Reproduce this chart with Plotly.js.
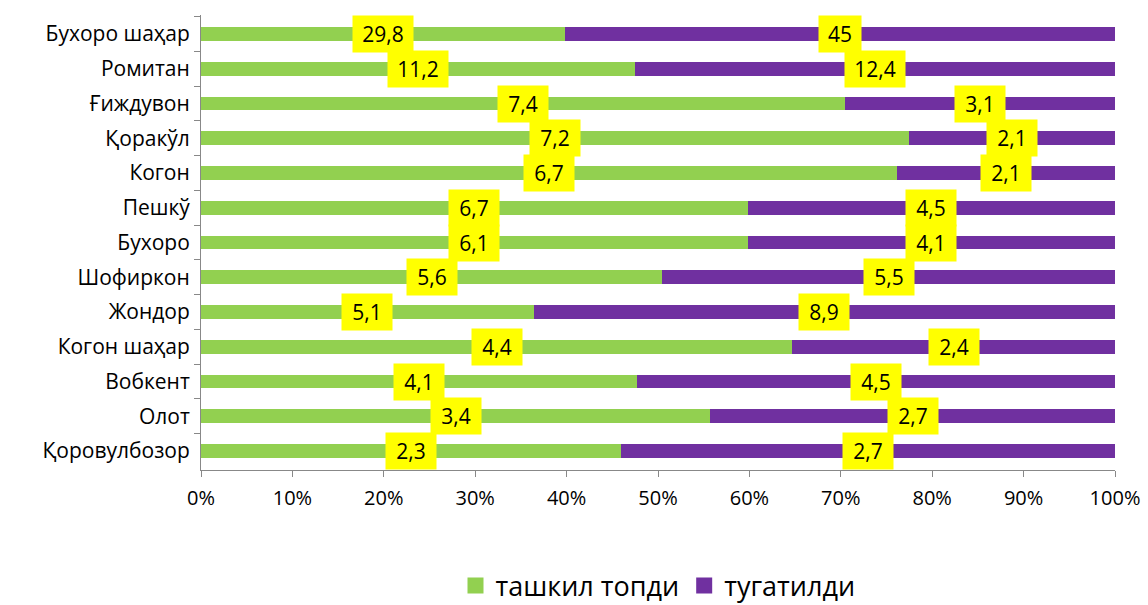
<!DOCTYPE html>
<html>
<head>
<meta charset="utf-8">
<script src="https://cdn.plot.ly/plotly-3.0.1.min.js"></script>
<style>
  body { margin: 0; background: #fff; }
  #plotArea { width: 1148px; height: 605px; }
</style>
</head>
<body>
<div id="plotArea"></div>
<script>
var districts = ['Бухоро шаҳар', 'Ромитан', 'Ғиждувон', 'Қоракўл', 'Когон', 'Пешкў', 'Бухоро',
                 'Шофиркон', 'Жондор', 'Когон шаҳар', 'Вобкент', 'Олот', 'Қоровулбозор'];
var foundedVals = [29.8, 11.2, 7.4, 7.2, 6.7, 6.7, 6.1, 5.6, 5.1, 4.4, 4.1, 3.4, 2.3];
var closedVals = [45, 12.4, 3.1, 2.1, 2.1, 4.5, 4.1, 5.5, 8.9, 2.4, 4.5, 2.7, 2.7];
var seriesNames = ['ташкил топди', 'тугатилди'];

var green = '#92D050';
var purple = '#7030A0';

var trace1 = {
  y: districts, x: foundedVals, name: seriesNames[0],
  type: 'bar', orientation: 'h', showlegend: false,
  marker: {color: green}, hoverinfo: 'x+y'
};
var trace2 = {
  y: districts, x: closedVals, name: seriesNames[1],
  type: 'bar', orientation: 'h', showlegend: false,
  marker: {color: purple}, hoverinfo: 'x+y'
};

// legend-only entries with bigger square markers
var leg1 = {
  x: [null], y: [null], type: 'scatter', mode: 'markers', name: seriesNames[0],
  marker: {symbol: 'square', size: 20, color: green}, hoverinfo: 'skip'
};
var leg2 = {
  x: [null], y: [null], type: 'scatter', mode: 'markers', name: seriesNames[1],
  marker: {symbol: 'square', size: 20, color: purple}, hoverinfo: 'skip'
};

// yellow value labels centred in each segment
function fmt(v) { return String(v).replace('.', ','); }
var annotations = [];
districts.forEach(function (d, i) {
  var total = foundedVals[i] + closedVals[i];
  var labels = [
    [foundedVals[i], foundedVals[i] / 2 / total * 100],
    [closedVals[i], (foundedVals[i] + closedVals[i] / 2) / total * 100]
  ];
  labels.forEach(function (l) {
    var txt = fmt(l[0]);
    annotations.push({
      x: l[1], y: d, xref: 'x', yref: 'y',
      text: txt, showarrow: false,
      width: txt.length > 3 ? 54 : (txt.length > 2 ? 44 : 36), height: 30,
      bgcolor: '#FFFF00', borderpad: 3,
      font: {family: 'Open Sans, sans-serif', size: 21, color: '#000'}
    });
  });
});

var layout = {
  barmode: 'stack',
  barnorm: 'percent',
  bargap: 0.6,
  width: 1148, height: 605,
  margin: {l: 201, r: 33, t: 15, b: 135, autoexpand: false},
  paper_bgcolor: '#fff', plot_bgcolor: '#fff',
  font: {family: 'Open Sans, sans-serif', color: '#000'},
  xaxis: {
    range: [0, 100], dtick: 10, ticksuffix: '%',
    showgrid: false, zeroline: false,
    showline: true, linecolor: '#888', linewidth: 1,
    ticks: 'outside', ticklen: 6, tickcolor: '#888',
    ticklabelstandoff: 4,
    tickfont: {size: 20}
  },
  yaxis: {
    autorange: 'reversed', type: 'category',
    showgrid: false, zeroline: false,
    showline: true, linecolor: '#888', linewidth: 1,
    ticks: 'outside', ticklen: 6, tickcolor: '#888',
    tickson: 'boundaries', ticklabelstandoff: 6,
    tickfont: {size: 21}
  },
  legend: {
    orientation: 'h', x: 0.5, xanchor: 'center', y: -0.255, yanchor: 'middle',
    font: {size: 27}, traceorder: 'normal', itemwidth: 30
  },
  annotations: annotations,
  showlegend: true
};

Plotly.newPlot('plotArea', [trace1, trace2, leg1, leg2], layout, {displayModeBar: false});
</script>
</body>
</html>
